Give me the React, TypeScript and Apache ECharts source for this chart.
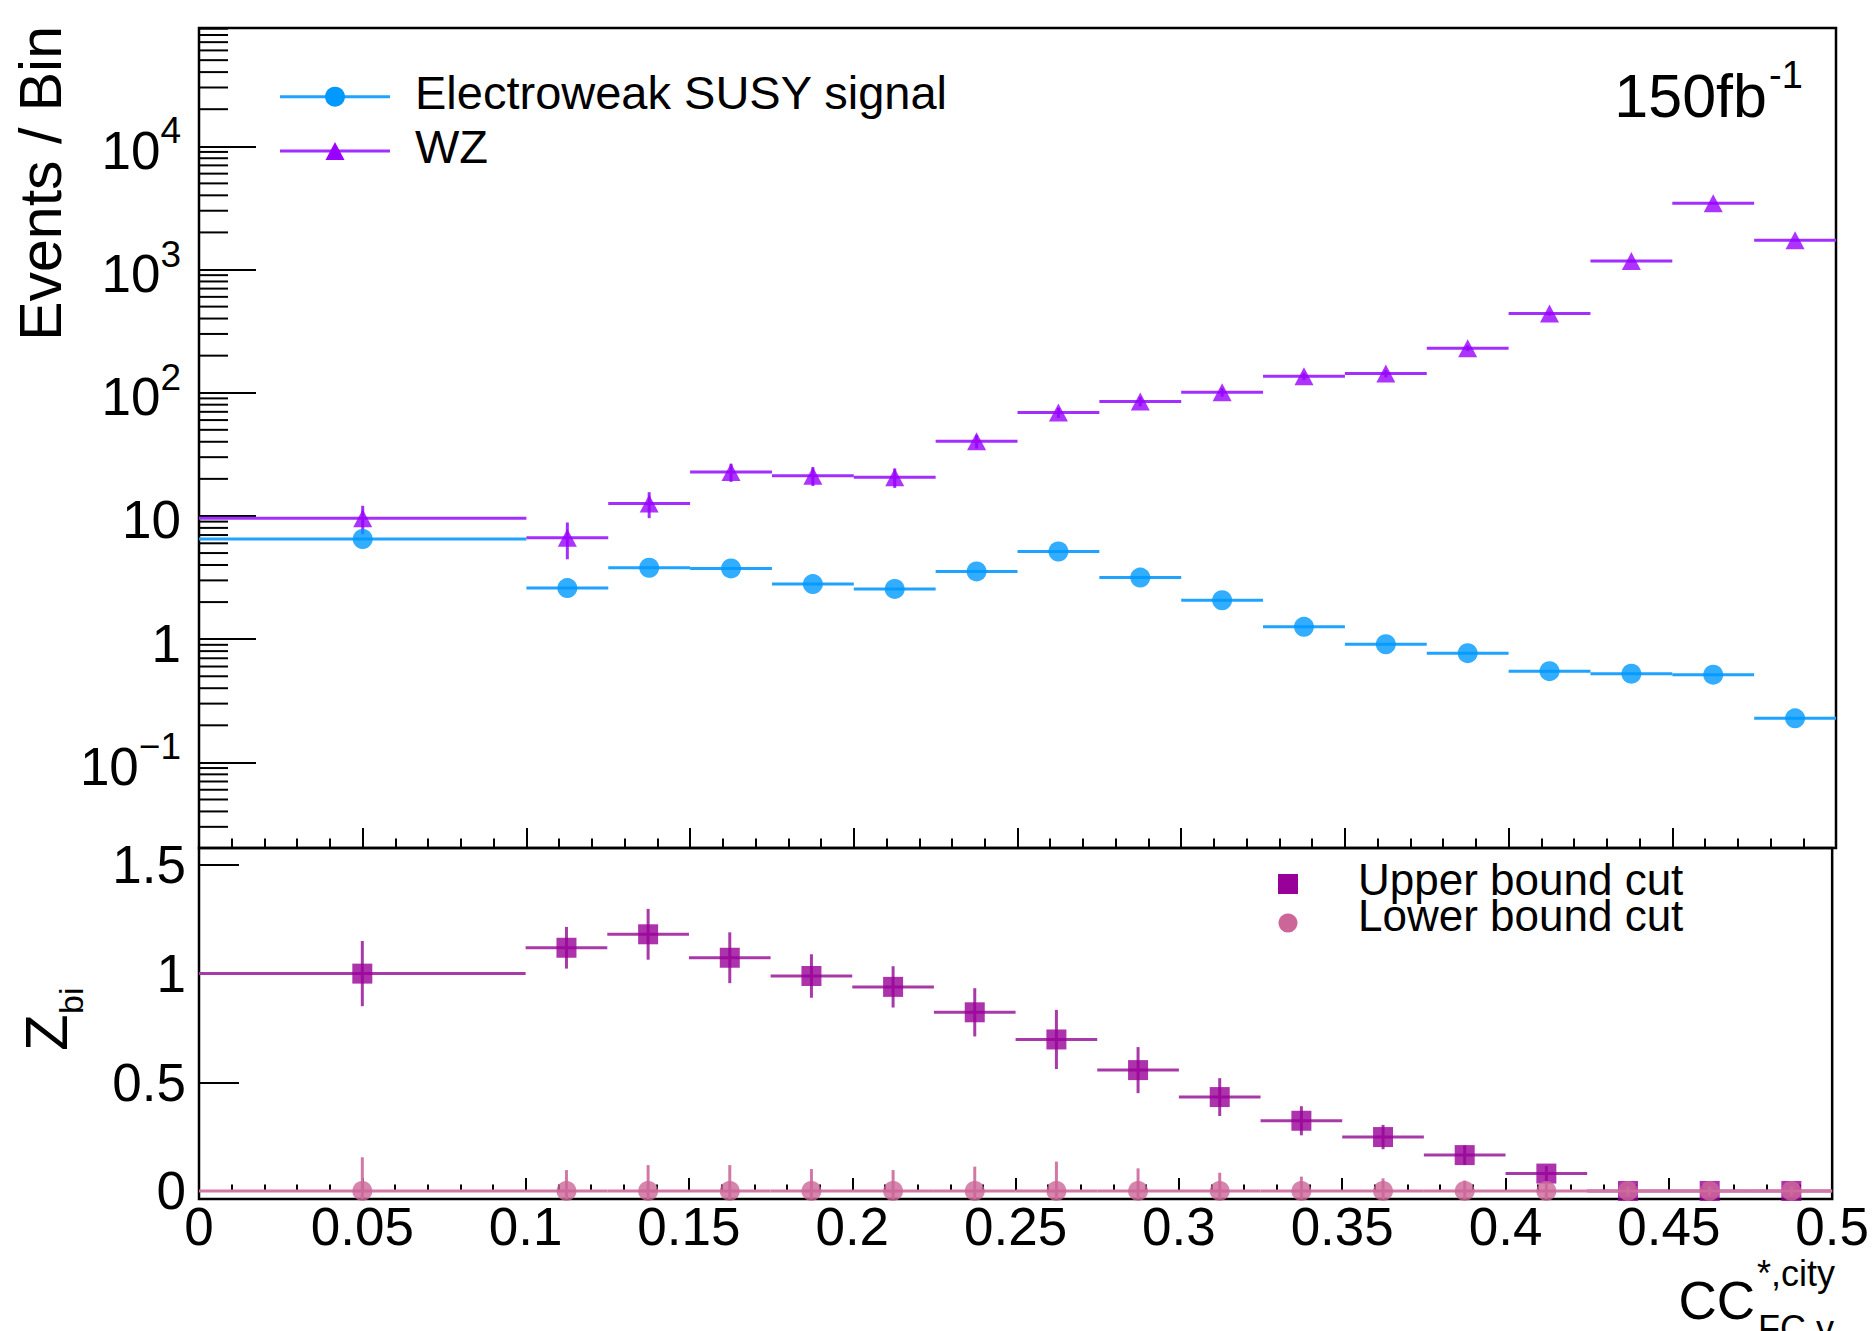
import { useEffect, useRef } from 'react';
import * as echarts from 'echarts';

// ---------------- data ----------------
const binEdges = [0, 0.1, 0.125, 0.15, 0.175, 0.2, 0.225, 0.25, 0.275, 0.3, 0.325, 0.35, 0.375, 0.4, 0.425, 0.45, 0.475, 0.5];
const signalEvents = [6.5, 2.6, 3.8, 3.75, 2.8, 2.56, 3.55, 5.15, 3.16, 2.07, 1.26, 0.91, 0.77, 0.55, 0.525, 0.515, 0.228];
const wzEvents = [9.6, 6.65, 12.6, 22.7, 21.2, 20.6, 40.3, 69, 85, 101, 136, 143, 230, 439, 1170, 3450, 1730];
const wzErrors = [2.5, 2.2, 3.0, 3.8, 3.7, 3.7, 5.0, 6.5, 7.3, 8.0, 9.2, 9.5, 12, 16.5, 27, 46, 33];
const upperBoundZ = [1.0, 1.119, 1.181, 1.073, 0.989, 0.939, 0.822, 0.697, 0.556, 0.432, 0.323, 0.248, 0.165, 0.08, 0, 0, 0];
const upperBoundErr = [0.15, 0.096, 0.117, 0.117, 0.1, 0.095, 0.111, 0.136, 0.106, 0.087, 0.067, 0.056, 0.045, 0.035, 0.015, 0.015, 0.015];
const lowerBoundZ = [0, 0, 0, 0, 0, 0, 0, 0, 0, 0, 0, 0, 0, 0, 0, 0, 0];
const lowerBoundErr = [0.155, 0.096, 0.119, 0.119, 0.101, 0.096, 0.112, 0.135, 0.104, 0.084, 0.066, 0.058, 0.048, 0.038, 0.02, 0.02, 0.02];

const logDecades = [0.01, 0.1, 1, 10, 100, 1000, 10000];
const logMinorMultipliers = [2, 3, 4, 5, 6, 7, 8, 9];
const zTicks = [0, 0.5, 1, 1.5];

const LOG_MIN = 0.0202;
const LOG_MAX = 91200;
const Z_MIN = -0.037;
const Z_MAX = 1.578;

// ---------------- style ----------------
const FONT = "'Liberation Sans', Arial, Helvetica, sans-serif";
const signalColor = '#0099ff';
const signalLine = '#1fa3ff';
const wzColor = '#9900ff';
const wzLine = '#a22eff';
const upperColor = '#990099';
const upperLine = '#a83aa8';
const lowerColor = '#cc6699';
const lowerLine = '#d179a4';

const PLOT_L = 199;
const PLOT_W = 1637;

function centers(): number[] {
  return binEdges.slice(0, -1).map((e, i) => (e + binEdges[i + 1]) / 2);
}

function errorData(vals: number[], errs: number[]) {
  return vals.map((v, i) => [binEdges[i], binEdges[i + 1], v, errs ? errs[i] : 0]);
}

function makeErrRender(color: string, floor: number) {
  return (params: any, api: any) => {
    const x0 = api.value(0);
    const x1 = api.value(1);
    const y = api.value(2);
    const e = api.value(3);
    const xc = (x0 + x1) / 2;
    const a = api.coord([x0, y]);
    const b = api.coord([x1, y]);
    const children: any[] = [
      { type: 'line', shape: { x1: a[0], y1: a[1], x2: b[0], y2: b[1] }, style: { stroke: color, lineWidth: 3 } },
    ];
    if (e > 0) {
      const t = api.coord([xc, y + e]);
      const bt = api.coord([xc, Math.max(y - e, floor)]);
      children.push({ type: 'line', shape: { x1: t[0], y1: t[1], x2: bt[0], y2: bt[1] }, style: { stroke: color, lineWidth: 3 } });
    }
    return { type: 'group', children };
  };
}

function logMinorTicks(): number[][] {
  const out: number[][] = [];
  logDecades.forEach((d) => {
    logMinorMultipliers.forEach((m) => {
      const v = m * d;
      if (v > LOG_MIN && v < LOG_MAX) out.push([0, v]);
    });
  });
  return out;
}

export default function App() {
  const ref = useRef<HTMLDivElement>(null);

  useEffect(() => {
    if (!ref.current) return;
    const chart = echarts.init(ref.current, undefined, { renderer: 'svg' });
    const xc = centers();
    const tickStyle = { color: '#000', width: 2 };

    const option: any = {
      animation: false,
      backgroundColor: '#fff',
      textStyle: { fontFamily: FONT },
      grid: [
        { left: PLOT_L, top: 28, width: PLOT_W, height: 820, show: true, borderColor: '#000', borderWidth: 2.5, backgroundColor: 'transparent', containLabel: false },
        { left: PLOT_L, top: 848, width: PLOT_W, height: 351, show: true, borderColor: '#000', borderWidth: 2.5, backgroundColor: 'transparent', containLabel: false },
      ],
      xAxis: [
        {
          type: 'value', gridIndex: 0, min: 0, max: 0.5, interval: 0.05,
          axisLine: { show: false },
          axisTick: { show: true, inside: true, length: 20, lineStyle: tickStyle },
          minorTick: { show: true, splitNumber: 5, length: 9.5, lineStyle: tickStyle },
          axisLabel: { show: false },
          splitLine: { show: false },
        },
        {
          type: 'value', gridIndex: 1, min: 0, max: 0.5, interval: 0.05,
          axisLine: { show: false },
          axisTick: { show: true, inside: true, length: 13, lineStyle: tickStyle },
          minorTick: { show: true, splitNumber: 5, length: 6.5, lineStyle: tickStyle },
          axisLabel: { show: true, fontSize: 53, color: '#000', margin: 1, fontFamily: FONT, showMinLabel: true, showMaxLabel: true },
          splitLine: { show: false },
        },
      ],
      yAxis: [
        {
          type: 'log', gridIndex: 0, logBase: 10, min: LOG_MIN, max: LOG_MAX,
          axisLine: { show: false },
          axisTick: { show: true, inside: true, length: 57, lineStyle: tickStyle },
          splitLine: { show: false },
          axisLabel: {
            show: true,
            margin: 18,
            padding: [8, 0, 0, 0],
            formatter: (v: number) => {
              const lg = Math.log10(v);
              const e = Math.round(lg);
              if (Math.abs(lg - e) > 1e-6) return '';
              if (e === 0) return '{b|1}';
              if (e === 1) return '{b|10}';
              return '{b|10}{s|' + (e < 0 ? '\u2212' + -e : String(e)) + '}';
            },
            rich: {
              b: { fontSize: 53, lineHeight: 76, color: '#000', fontFamily: FONT },
              s: { fontSize: 37, lineHeight: 37, verticalAlign: 'top', color: '#000', fontFamily: FONT },
            },
          },
        },
        {
          type: 'value', gridIndex: 1, min: Z_MIN, max: Z_MAX, splitNumber: 3,
          axisLine: { show: false },
          axisTick: { show: true, inside: true, length: 40, lineStyle: tickStyle, customValues: zTicks },
          splitLine: { show: false },
          axisLabel: {
            show: true, fontSize: 53, color: '#000', margin: 13, fontFamily: FONT,
            customValues: zTicks,
            formatter: (v: number) => (zTicks.some((t) => Math.abs(t - v) < 1e-6) ? String(Math.round(v * 10) / 10) : ''),
          },
        },
      ],
      series: [
        // log-axis minor ticks
        {
          type: 'custom', xAxisIndex: 0, yAxisIndex: 0, silent: true, z: 5,
          data: logMinorTicks(),
          encode: { x: 0, y: 1 },
          renderItem: (params: any, api: any) => {
            const p = api.coord([0, api.value(1)]);
            return { type: 'line', shape: { x1: p[0], y1: p[1], x2: p[0] + 29, y2: p[1] }, style: { stroke: '#000', lineWidth: 2 } };
          },
        },
        {
          type: 'custom', name: 'WZ err', xAxisIndex: 0, yAxisIndex: 0, silent: true, z: 2,
          data: errorData(wzEvents, wzErrors), encode: { x: [0, 1], y: 2 },
          renderItem: makeErrRender(wzLine, LOG_MIN),
        },
        {
          type: 'custom', name: 'signal err', xAxisIndex: 0, yAxisIndex: 0, silent: true, z: 2,
          data: errorData(signalEvents, signalEvents.map(() => 0)), encode: { x: [0, 1], y: 2 },
          renderItem: makeErrRender(signalLine, LOG_MIN),
        },
        {
          type: 'scatter', name: 'WZ', xAxisIndex: 0, yAxisIndex: 0, z: 3,
          symbol: 'triangle', symbolSize: [19, 18],
          itemStyle: { color: wzColor },
          data: xc.map((x, i) => [x, wzEvents[i]]),
        },
        {
          type: 'scatter', name: 'Electroweak SUSY signal', xAxisIndex: 0, yAxisIndex: 0, z: 3,
          symbol: 'circle', symbolSize: 20,
          itemStyle: { color: signalColor },
          data: xc.map((x, i) => [x, signalEvents[i]]),
        },
        // lower pad
        {
          type: 'custom', name: 'upper err', xAxisIndex: 1, yAxisIndex: 1, silent: true, z: 2,
          data: errorData(upperBoundZ, upperBoundErr), encode: { x: [0, 1], y: 2 },
          renderItem: makeErrRender(upperLine, Z_MIN),
        },
        {
          type: 'scatter', name: 'Upper bound cut', xAxisIndex: 1, yAxisIndex: 1, z: 3,
          symbol: 'rect', symbolSize: 20,
          itemStyle: { color: upperColor },
          data: xc.map((x, i) => [x, upperBoundZ[i]]),
        },
        {
          type: 'custom', name: 'lower err', xAxisIndex: 1, yAxisIndex: 1, silent: true, z: 4,
          data: errorData(lowerBoundZ, lowerBoundErr), encode: { x: [0, 1], y: 2 },
          renderItem: makeErrRender(lowerLine, Z_MIN),
        },
        {
          type: 'scatter', name: 'Lower bound cut', xAxisIndex: 1, yAxisIndex: 1, z: 5,
          symbol: 'circle', symbolSize: 20,
          itemStyle: { color: lowerColor },
          data: xc.map((x, i) => [x, lowerBoundZ[i]]),
        },
      ],
      graphic: [
        // axis titles
        { type: 'text', x: 41, y: 26, rotation: Math.PI / 2, style: { text: 'Events / Bin', font: `59px ${FONT}`, fill: '#000', textAlign: 'right', textVerticalAlign: 'middle' } },
        { type: 'text', x: 46, y: 1051, rotation: Math.PI / 2, style: { text: 'Z', font: `60px ${FONT}`, fill: '#000', textAlign: 'left', textVerticalAlign: 'middle' } },
        { type: 'text', x: 71, y: 1014, rotation: Math.PI / 2, style: { text: 'bi', font: `34px ${FONT}`, fill: '#000', textAlign: 'left', textVerticalAlign: 'middle' } },
        { type: 'text', x: 1755, y: 1300, style: { text: 'CC', font: `53px ${FONT}`, fill: '#000', textAlign: 'right', textVerticalAlign: 'middle' } },
        { type: 'text', x: 1757, y: 1273, style: { text: '*,city', font: `36px ${FONT}`, fill: '#000', textAlign: 'left', textVerticalAlign: 'middle' } },
        { type: 'text', x: 1758, y: 1328, style: { text: 'FC,y', font: `36px ${FONT}`, fill: '#000', textAlign: 'left', textVerticalAlign: 'middle' } },
        // luminosity
        { type: 'text', x: 1767, y: 96, style: { text: '150fb', font: `61px ${FONT}`, fill: '#000', textAlign: 'right', textVerticalAlign: 'middle' } },
        { type: 'text', x: 1769, y: 75, style: { text: '-1', font: `38px ${FONT}`, fill: '#000', textAlign: 'left', textVerticalAlign: 'middle' } },
        // upper legend
        { type: 'line', shape: { x1: 280, y1: 96.7, x2: 390, y2: 96.7 }, style: { stroke: signalLine, lineWidth: 3 } },
        { type: 'circle', shape: { cx: 335, cy: 96.7, r: 10 }, style: { fill: signalColor } },
        { type: 'text', x: 415, y: 92, style: { text: 'Electroweak SUSY signal', font: `47px ${FONT}`, fill: '#000', textAlign: 'left', textVerticalAlign: 'middle' } },
        { type: 'line', shape: { x1: 280, y1: 151, x2: 390, y2: 151 }, style: { stroke: wzLine, lineWidth: 3 } },
        { type: 'polygon', shape: { points: [[325.5, 160], [344.5, 160], [335, 142]] }, style: { fill: wzColor } },
        { type: 'text', x: 415, y: 146, style: { text: 'WZ', font: `47px ${FONT}`, fill: '#000', textAlign: 'left', textVerticalAlign: 'middle' } },
        // lower legend
        { type: 'rect', shape: { x: 1278, y: 874, width: 20, height: 20 }, style: { fill: upperColor } },
        { type: 'text', x: 1358, y: 879, style: { text: 'Upper bound cut', font: `44px ${FONT}`, fill: '#000', textAlign: 'left', textVerticalAlign: 'middle' } },
        { type: 'circle', shape: { cx: 1288, cy: 923, r: 9.5 }, style: { fill: lowerColor } },
        { type: 'text', x: 1358, y: 915, style: { text: 'Lower bound cut', font: `44px ${FONT}`, fill: '#000', textAlign: 'left', textVerticalAlign: 'middle' } },
      ],
    };

    chart.setOption(option);
    return () => chart.dispose();
  }, []);

  return (
    <div
      ref={ref}
      style={{ position: 'absolute', left: 0, top: 0, width: 1872, height: 1331, background: '#fff' }}
    />
  );
}
